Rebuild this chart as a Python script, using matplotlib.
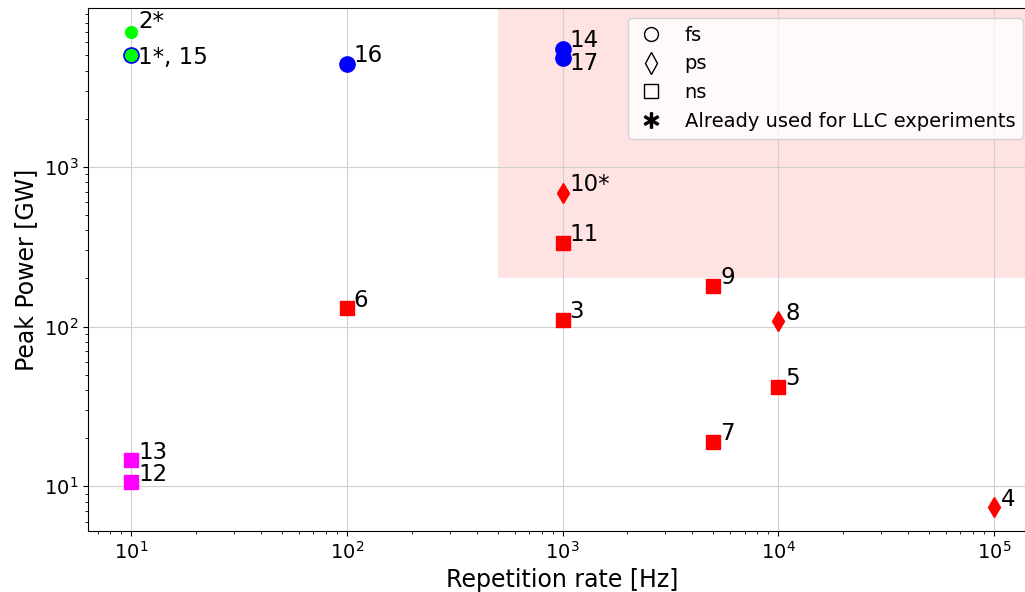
import matplotlib
matplotlib.use('Agg')
import matplotlib.pyplot as plt
from matplotlib.lines import Line2D

# source data
ids = ['1', '2', '3', '4', '5', '6', '7', '8', '9', '10', '11', '12', '13', '14', '15', '16', '17']
rep_rate = [10, 10, 1000, 1e5, 1e4, 100, 5000, 1e4, 5000, 1000, 1000, 10, 10, 1000, 10, 100, 1000]
peak_power = [5000, 7000, 110, 7.4, 42, 130, 19, 108, 180, 690, 335, 10.6, 14.6, 5500, 5000, 4400, 4800]
pulse = ['fs', 'fs', 'ns', 'ps', 'ns', 'ns', 'ns', 'ps', 'ns', 'ps', 'ns', 'ns', 'ns', 'fs', 'fs', 'fs', 'fs']
colors = ['lime', 'lime', 'red', 'red', 'red', 'red', 'red', 'red', 'red', 'red', 'red',
          'magenta', 'magenta', 'blue', 'blue', 'blue', 'blue']
texts = ['1*, 15', '2*', '3', '4', '5', '6', '7', '8', '9', '10*', '11', '12', '13', '14', '', '16', '17']

markers = {'fs': 'o', 'ps': 'd', 'ns': 's'}

fig = plt.figure(figsize=(10.25, 5.92), dpi=100)
ax = fig.add_axes([88/1025, 61/592, 949/1025, 523/592])
ax.set_xscale('log')
ax.set_yscale('log')

# draw 15 first so 1* sits on top of it
order = [14] + [i for i in range(len(ids)) if i != 14]
for i in order:
    ms = 10
    if pulse[i] == 'fs':
        ms = 8.5 if colors[i] == 'lime' else 11
    ax.plot(rep_rate[i], peak_power[i], marker=markers[pulse[i]], color=colors[i],
            ms=ms, ls='none', zorder=3)

dy_special = {'1*, 15': -2, '2*': 10, '17': -6}
for i in range(len(ids)):
    if texts[i] == '':
        continue
    dy = dy_special.get(texts[i], 8)
    ax.annotate(texts[i], (rep_rate[i], peak_power[i]), xytext=(7, dy),
                textcoords='offset pixels', ha='left', va='center', fontsize=16.5)

ax.grid(True, color='#cfcfcf')
xl = ax.get_xlim()
yl = ax.get_ylim()
ax.fill_between([500, xl[1]], 200, yl[1], color='red', alpha=0.11, lw=0, zorder=1)
ax.set_xlim(xl)
ax.set_ylim(yl)

ax.set_xlabel('Repetition rate [Hz]', fontsize=17)
ax.set_ylabel('Peak Power [GW]', fontsize=17)
ax.tick_params(labelsize=14)

handles = [
    Line2D([], [], marker='o', ls='none', mfc='none', mec='k', ms=10),
    Line2D([], [], marker='d', ls='none', mfc='none', mec='k', ms=11),
    Line2D([], [], marker='s', ls='none', mfc='none', mec='k', ms=10),
    Line2D([], [], marker=r'$\ast$', ls='none', color='k', ms=11),
]
ax.legend(handles, ['fs', 'ps', 'ns', 'Already used for LLC experiments'],
          loc='upper right', bbox_to_anchor=(1023/1025, 1 - 18/592),
          bbox_transform=fig.transFigure, borderaxespad=0, fontsize=14,
          handlelength=1.5, handletextpad=1.0)

fig.savefig('out.png', dpi=100)
